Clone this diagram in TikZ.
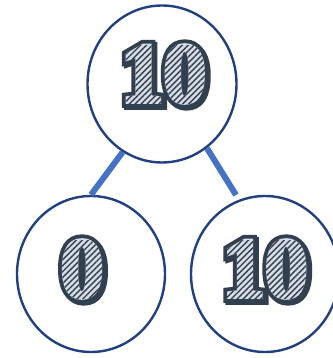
\documentclass[tikz,border=0pt]{standalone}
\usepackage{fontspec}
\newfontfamily\numfam[UprightFont=* Bold, FakeBold=5]{Liberation Serif}
\newfontfamily\numout[UprightFont=* Bold, FakeBold=14]{Liberation Serif}
\usetikzlibrary{shapes.geometric,fadings,patterns.meta,calc}
\definecolor{ringcol}{HTML}{22407F}
\definecolor{linkcol}{HTML}{4472C4}
\definecolor{numdark}{HTML}{323F4F}
\definecolor{numlight}{HTML}{D6DCE4}
\tikzset{
  ring/.style={draw=ringcol, line width=2.4pt, ellipse, fill=white},
  link/.style={draw=linkcol, line width=6pt},
  digits/.style={inner sep=0pt, font=\numfam\fontsize{85}{85}\selectfont},
  digitsout/.style={inner sep=0pt, font=\numout\fontsize{85}{85}\selectfont},
  hatch/.style={pattern={Lines[angle=45,distance=4.2pt,line width=1.4pt]}, pattern color=numdark},
}
\begin{tikzfadingfrompicture}[name=fadeten]
  \node[digits, text=transparent!0] at (0,0) {10};
\end{tikzfadingfrompicture}
\begin{tikzfadingfrompicture}[name=fadezero]
  \node[digits, text=transparent!0] at (0,0) {0};
\end{tikzfadingfrompicture}
% #1,#2 = centre, #3 = text, #4 = fading, #5 = node name
\newcommand{\fancynum}[5]{%
  \node[digitsout, text=numdark] at (#1+2,#2-2) {#3};
  \node[digitsout, text=numdark] at (#1,#2) {#3};
  \node[digits, text=numlight] (#5) at (#1,#2) {#3};
  \fill[hatch, path fading=#4, fit fading=false, fading transform={shift={(#1,#2)}}]
    (#1-70,#2-60) rectangle (#1+70,#2+60);
}
\begin{document}
\begin{tikzpicture}[x=1pt,y=1pt]
  \useasboundingbox (0,0) rectangle (332,358);
  \node[ring, minimum width=149pt, minimum height=157pt] (top) at (162,274) {};
  \node[ring, minimum width=148pt, minimum height=156pt] (left) at (91,84) {};
  \node[ring, minimum width=148pt, minimum height=156pt] (right) at (265,84) {};
  \draw[link] (top.240) -- (left.north);
  \coordinate (rend) at (236,163);
  \draw[link] (top.305) -- (rend);
  \fancynum{163.5}{284}{10}{fadeten}{ttop}
  \fancynum{82}{89}{0}{fadezero}{tleft}
  \fancynum{265}{89}{10}{fadeten}{tright}
\end{tikzpicture}
\end{document}
